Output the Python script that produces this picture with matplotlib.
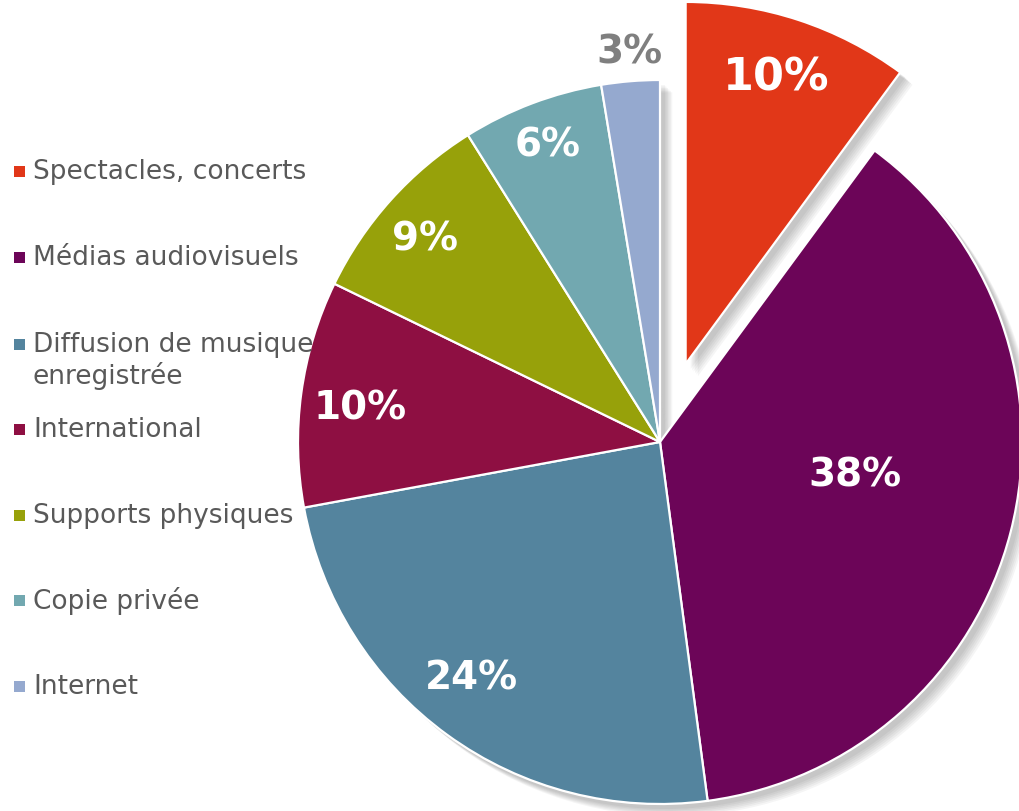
import numpy as np
import matplotlib
matplotlib.use("Agg")
import matplotlib.pyplot as plt
from matplotlib.patches import Rectangle

categories = ["Spectacles, concerts", "Médias audiovisuels", "Diffusion de musique\nenregistrée",
              "International", "Supports physiques", "Copie privée", "Internet"]
values = [10.1, 37.8, 24.2, 10.1, 8.9, 6.3, 2.6]
colors = ["#E13718", "#6C0558", "#54849E", "#8E0F42", "#97A10A", "#72A8B0", "#95A9CF"]
explode = [0.227, 0, 0, 0, 0, 0, 0]

# label placement (layout): radial distance, clockwise angular shift (deg), font size, colour
label_dist = [0.831, 0.546, 0.833, 0.834, 0.858, 0.879, 1.083]
label_shift = [-0.7, -4.8, 2.8, -1.2, -1.1, 0.1, 0.2]
label_size = [32, 28, 28, 28, 28, 28, 28]
label_color = ["white"] * 6 + ["#7F7F7F"]

W, H = 1019, 812
fig = plt.figure(figsize=(W / 100, H / 100), dpi=100)
fig.patch.set_facecolor("white")

R = 362.0
cx, cy = 660.0, H - 443.0
L = 1.3
size = 2 * L * R
ax = fig.add_axes([(cx - size / 2) / W, (cy - size / 2) / H, size / W, size / H])

# soft shadow
for k in range(1, 7):
    off = 0.004 * k
    ax.pie(values, explode=explode, startangle=90, counterclock=False, radius=1.0,
           center=(off + 0.01, -off - 0.01), colors=["#000000"] * len(values),
           wedgeprops=dict(linewidth=0, alpha=0.04))

wedges, texts, autotexts = ax.pie(
    values, explode=explode, startangle=90, counterclock=False, radius=1.0,
    colors=colors, autopct="%1.0f%%", pctdistance=0.83,
    wedgeprops=dict(edgecolor="white", linewidth=1.6),
    textprops=dict(color="white", fontweight="bold", family="DejaVu Sans"))

ax.set_xlim(-L, L)
ax.set_ylim(-L, L)
ax.set_aspect("equal")
ax.axis("off")

for w, t, d, sh, fs, col in zip(wedges, autotexts, label_dist, label_shift, label_size, label_color):
    mid = np.deg2rad((w.theta1 + w.theta2) / 2 - sh)
    c = w.center
    t.set_position((c[0] + d * np.cos(mid), c[1] + d * np.sin(mid)))
    t.set_fontsize(fs)
    t.set_color(col)

# legend (manual)
leg_y = [172, 258, 345, 430, 516, 601, 687]
for cat, col, yy in zip(categories, colors, leg_y):
    fig.patches.append(Rectangle((14 / W, (H - yy - 6) / H), 11 / W, 11 / H,
                                 transform=fig.transFigure, facecolor=col, edgecolor="none"))
    lines = cat.split("\n")
    for j, line in enumerate(lines):
        fig.text(33 / W, (H - yy - 31 * j) / H, line, fontsize=19, color="#595959",
                 va="center", ha="left")

fig.savefig("out.png", dpi=100, facecolor="white")
